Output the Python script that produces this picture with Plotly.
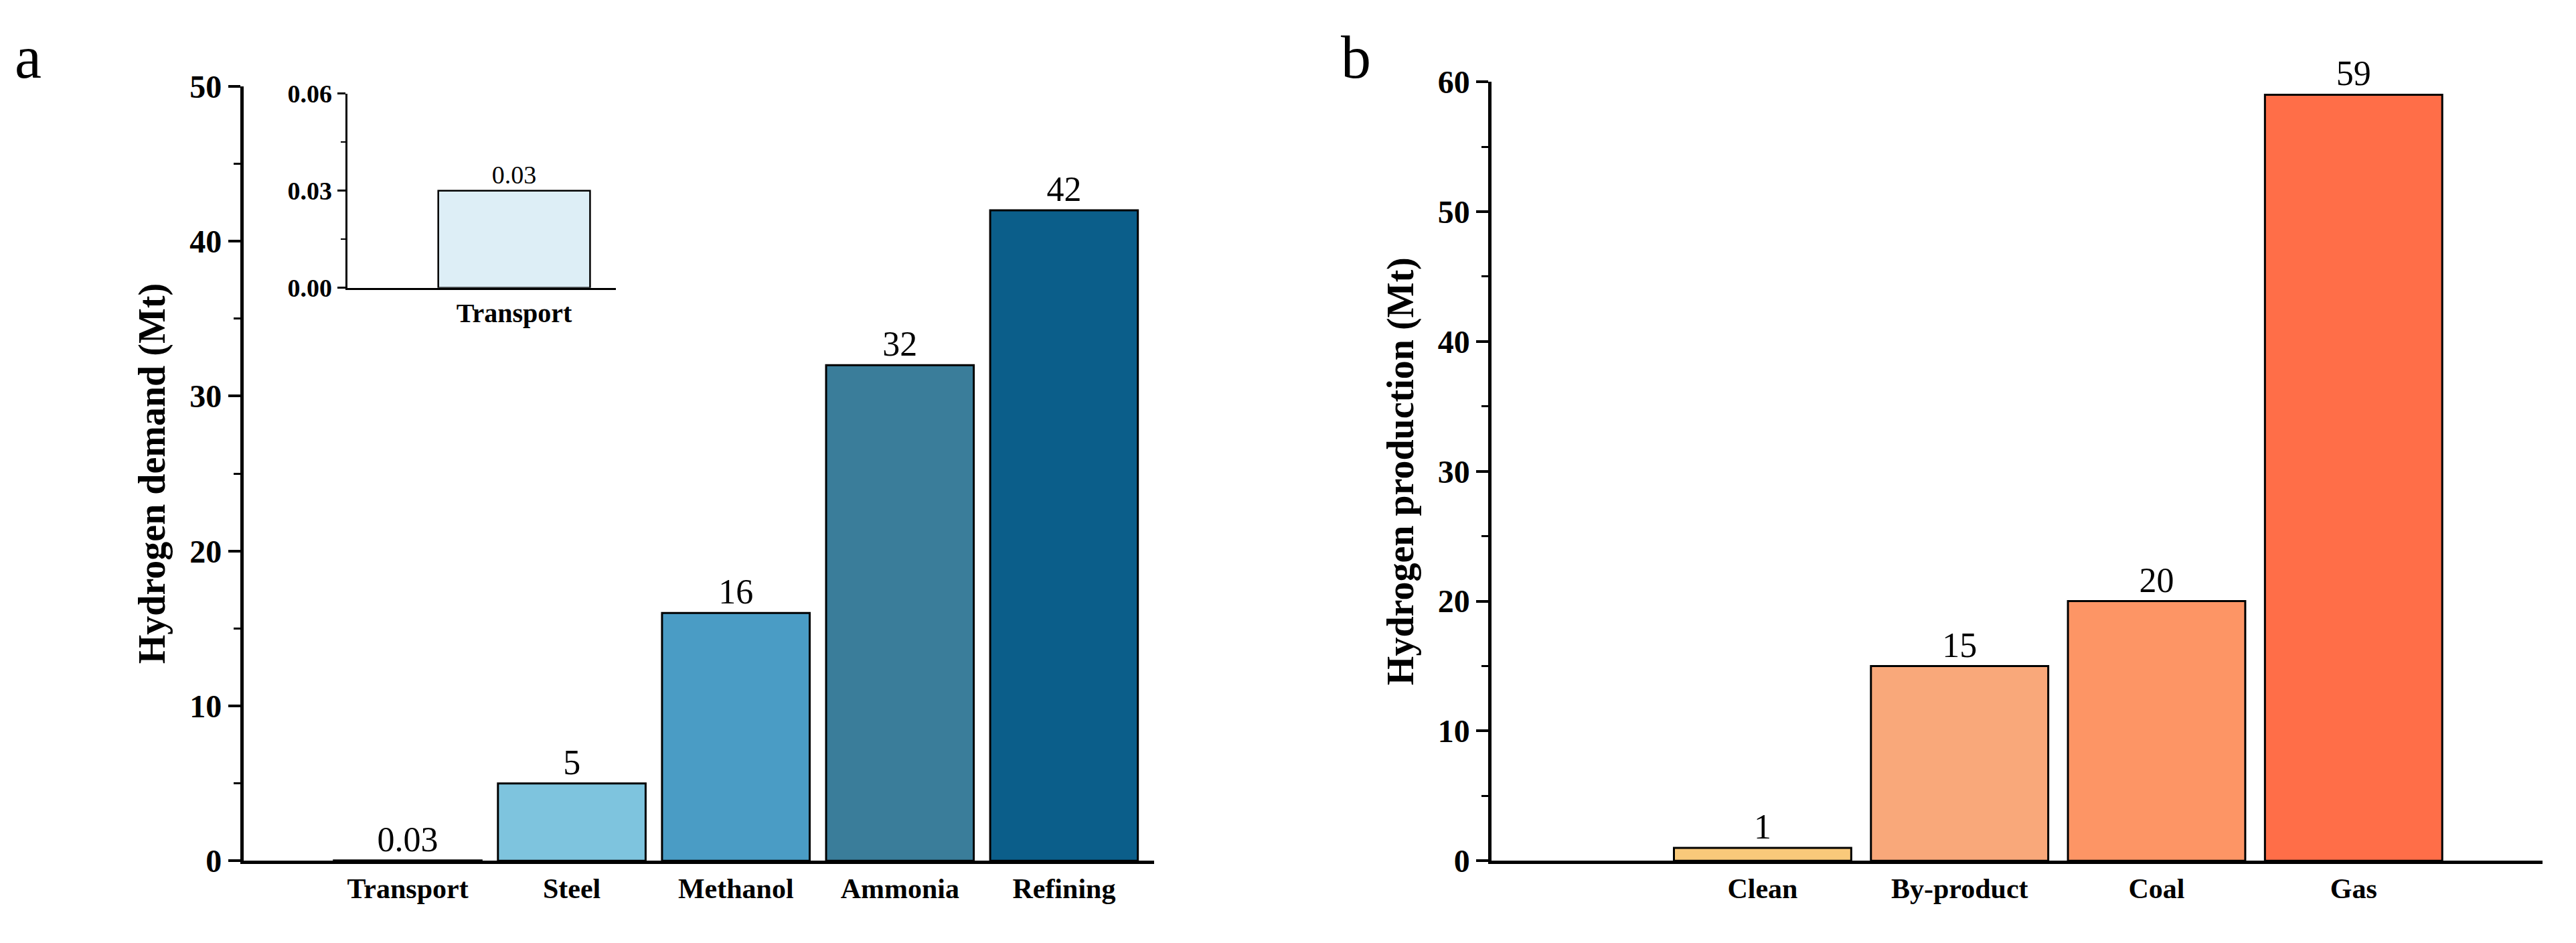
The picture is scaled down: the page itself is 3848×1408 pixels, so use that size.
import plotly.graph_objects as go

# demand side (panel a)
demand_cats = ["Transport", "Steel", "Methanol", "Ammonia", "Refining"]
demand_vals = [0.03, 5, 16, 32, 42]
demand_colors = ["#ddeef6", "#7ec4de", "#4a9cc5", "#3a7d9a", "#0b5e8a"]

# production side (panel b)
prod_cats = ["Clean", "By-product", "Coal", "Gas"]
prod_vals = [1, 15, 20, 59]
prod_colors = ["#f9c97a", "#f9a87a", "#fd9565", "#ff6e48"]

# inset
inset_cat = ["Transport"]
inset_val = [0.03]

FONT = "Liberation Serif"
S = 2.454  # display -> real px

fig = go.Figure()

fig.add_trace(go.Bar(
    x=list(range(len(demand_cats))), y=demand_vals, width=0.9,
    marker=dict(color=demand_colors, line=dict(color="black", width=3)),
    text=[str(v) for v in demand_vals], textposition="outside",
    textfont=dict(family=FONT, size=52, color="black"),
    cliponaxis=False, xaxis="x", yaxis="y"))

fig.add_trace(go.Bar(
    x=list(range(len(prod_cats))), y=prod_vals, width=0.9,
    marker=dict(color=prod_colors, line=dict(color="black", width=3)),
    text=[str(v) for v in prod_vals], textposition="outside",
    textfont=dict(family=FONT, size=52, color="black"),
    cliponaxis=False, xaxis="x2", yaxis="y2"))

fig.add_trace(go.Bar(
    x=[0], y=inset_val, width=1,
    marker=dict(color=demand_colors[0], line=dict(color="black", width=2.5)),
    text=["0.03"], textposition="outside",
    textfont=dict(family=FONT, size=38, color="black"),
    cliponaxis=False, xaxis="x3", yaxis="y3"))

axis_common = dict(showline=True, linecolor="black", linewidth=5, showgrid=False,
                   zeroline=False, tickfont=dict(family=FONT, size=48, color="black"))

fig.update_layout(
    width=3848, height=1408, plot_bgcolor="white", paper_bgcolor="white",
    showlegend=False, margin=dict(l=0, r=0, t=0, b=0),
    font=dict(family=FONT, color="black"),
    xaxis=dict(domain=[0.0925, 0.446], range=[-1, 4.55], tickvals=list(range(5)),
               ticktext=["<b>%s</b>" % c for c in demand_cats], ticks="",
               **{**axis_common, "tickfont": dict(family=FONT, size=42, color="black")}),
    yaxis=dict(domain=[0.0765, 0.93], range=[0, 50], tickvals=[0, 10, 20, 30, 40, 50],
               ticktext=["<b>%d</b>" % v for v in [0, 10, 20, 30, 40, 50]],
               ticks="outside", ticklen=18, tickwidth=4, tickcolor="black",
               minor=dict(dtick=5, ticks="outside", ticklen=10, tickwidth=3, tickcolor="black"),
               title=dict(text="<b>Hydrogen demand (Mt)</b>", font=dict(family=FONT, size=56), standoff=20),
               **axis_common),
    xaxis2=dict(domain=[0.577, 0.985], range=[-1.375, 3.96], tickvals=list(range(4)),
                ticktext=["<b>%s</b>" % c for c in prod_cats], ticks="", anchor="y2",
                **{**axis_common, "tickfont": dict(family=FONT, size=42, color="black")}),
    yaxis2=dict(domain=[0.0765, 0.935], range=[0, 60], tickvals=[0, 10, 20, 30, 40, 50, 60],
                ticktext=["<b>%d</b>" % v for v in [0, 10, 20, 30, 40, 50, 60]], anchor="x2",
                ticks="outside", ticklen=18, tickwidth=4, tickcolor="black",
                minor=dict(dtick=5, ticks="outside", ticklen=10, tickwidth=3, tickcolor="black"),
                title=dict(text="<b>Hydrogen production (Mt)</b>", font=dict(family=FONT, size=56), standoff=20),
                **axis_common),
    xaxis3=dict(domain=[0.1327, 0.237], range=[-1.1, 0.67], tickvals=[0],
                ticktext=["<b>%s</b>" % inset_cat[0]], ticks="", anchor="y3",
                **{**axis_common, "linewidth": 3, "tickfont": dict(family=FONT, size=40, color="black")}),
    yaxis3=dict(domain=[0.708, 0.922], range=[0, 0.06], tickvals=[0, 0.03, 0.06],
                ticktext=["<b>0.00</b>", "<b>0.03</b>", "<b>0.06</b>"], anchor="x3",
                ticks="outside", ticklen=12, tickwidth=3, tickcolor="black",
                minor=dict(dtick=0.015, ticks="outside", ticklen=7, tickwidth=2, tickcolor="black"),
                **{**axis_common, "linewidth": 3, "tickfont": dict(family=FONT, size=38, color="black")}),
    annotations=[
        dict(text="a", x=0.003, y=1.0, xref="paper", yref="paper", xanchor="left", yanchor="top",
             showarrow=False, font=dict(family=FONT, size=90, color="black")),
        dict(text="b", x=0.518, y=1.0, xref="paper", yref="paper", xanchor="left", yanchor="top",
             showarrow=False, font=dict(family=FONT, size=90, color="black")),
    ],
)

fig.write_html("out.html")
